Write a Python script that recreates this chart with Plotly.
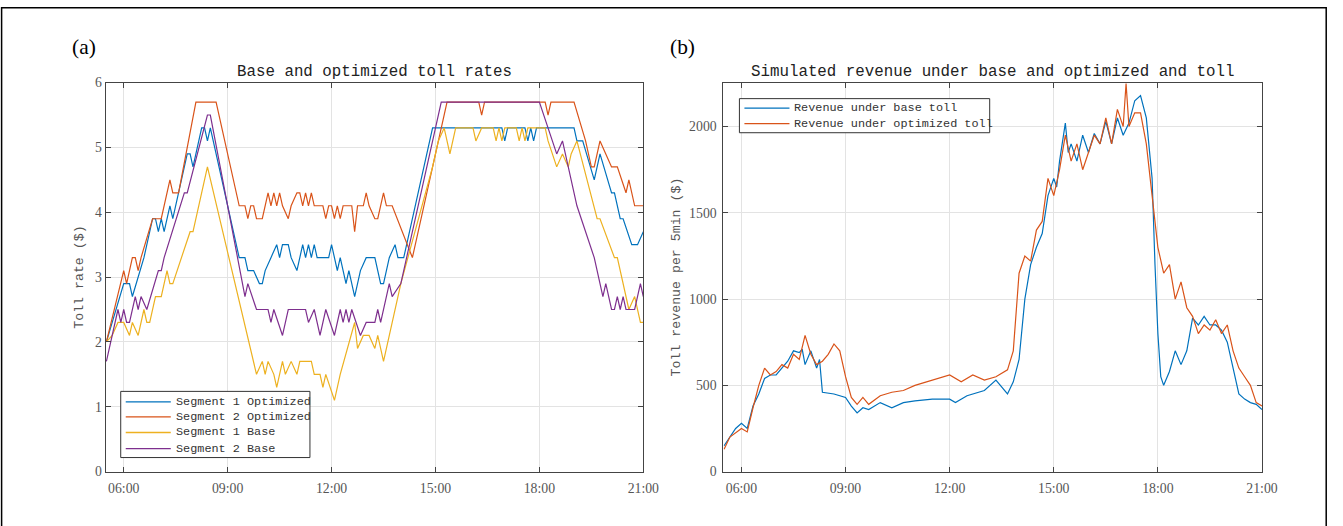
import plotly.graph_objects as go

# ---------------- data: panel (a) toll rates ----------------
seg1_opt_t = ["05:30","06:00","06:10","06:15","06:35","06:50","06:55","07:00","07:05","07:10","07:20","07:25",
              "07:50","07:55","08:00","08:15","08:20","08:25","08:30","09:20","09:30","09:35","09:45","09:55",
              "10:00","10:05","10:15","10:25","10:30","10:35","10:45","10:50","11:00","11:10","11:15","11:20",
              "11:25","11:30","11:35","11:55","12:00","12:10","12:15","12:25","12:30","12:40","12:50","13:00",
              "13:15","13:25","13:30","13:40","13:50","13:55","14:05","14:55","16:55","17:00","17:05","17:35",
              "17:40","17:45","17:50","17:55","19:00","19:05","19:15","19:35","19:45","20:05","20:10","20:20",
              "20:25","20:40","20:50","21:00"]
seg1_opt_v = [2.0,2.9,2.9,2.7,3.3,3.9,3.9,3.7,3.9,3.7,4.1,3.9,
              4.9,4.9,4.7,5.3,5.3,5.1,5.3,3.3,3.3,3.1,3.1,2.9,
              2.9,3.1,3.3,3.5,3.3,3.5,3.5,3.3,3.1,3.5,3.3,3.5,
              3.3,3.5,3.3,3.3,3.5,3.1,3.3,2.9,3.1,2.7,3.1,3.3,
              3.3,2.9,2.9,3.3,3.5,3.3,3.3,5.3,5.3,5.1,5.3,5.3,
              5.1,5.3,5.1,5.3,5.3,5.1,5.1,4.5,4.9,4.3,4.3,3.9,
              3.9,3.5,3.5,3.7]

seg2_opt_t = ["05:30","06:00","06:05","06:15","06:20","06:25","06:30","06:50","07:05","07:20","07:25","07:35",
              "08:05","08:40","09:20","09:30","09:35","09:40","09:45","09:50","10:00","10:10","10:15","10:20",
              "10:25","10:30","10:35","10:45","10:50","11:00","11:05","11:10","11:15","11:20","11:25","11:30",
              "11:45","11:50","11:55","12:00","12:05","12:10","12:15","12:20","12:35","12:40","12:45","12:55",
              "13:00","13:05","13:15","13:20","13:30","13:35","13:45","14:20","15:20","16:15","16:20","16:25",
              "18:10","18:15","18:20","19:00","19:20","19:30","19:35","19:45","19:55","20:05","20:15","20:30",
              "20:35","20:45","21:00"]
seg2_opt_v = [2.0,3.1,2.9,3.3,3.3,3.1,3.3,3.9,3.9,4.5,4.3,4.3,
              5.7,5.7,4.1,4.1,3.9,4.1,4.1,3.9,3.9,4.3,4.1,4.3,
              4.1,4.3,4.1,3.9,4.1,4.3,4.3,4.1,4.3,4.1,4.3,4.1,
              4.1,3.9,4.1,4.1,3.9,4.1,3.9,4.1,4.1,3.7,4.1,4.1,
              4.3,4.1,3.9,3.9,4.3,4.1,4.1,3.3,5.7,5.7,5.5,5.7,
              5.7,5.5,5.7,5.7,5.1,4.7,4.7,5.1,4.9,4.7,4.7,4.3,
              4.5,4.1,4.1]

seg1_base_t = ["05:30","05:40","05:50","06:00","06:10","06:15","06:25","06:35","06:40","06:45","06:55","07:05",
               "07:15","07:20","07:25","07:55","08:00","08:25","09:50","10:00","10:05","10:10","10:20","10:25",
               "10:35","10:40","10:50","11:00","11:05","11:25","11:30","11:40","11:45","11:50","12:05","12:15",
               "12:40","12:45","12:55","13:05","13:15","13:20","13:30","14:00","14:55","15:05","15:15","15:25",
               "15:35","16:05","16:10","16:20","16:40","16:45","16:50","16:55","17:00","17:20","17:25","17:30",
               "17:35","17:40","18:10","18:15","18:30","18:40","18:50","18:55","19:05","19:40","19:45","20:10",
               "20:15","20:35","20:45","20:55","21:00"]
seg1_base_v = [2.0,2.1,2.3,2.3,2.1,2.3,2.1,2.5,2.3,2.3,2.7,2.7,
               3.1,2.9,2.9,3.7,3.7,4.7,1.5,1.7,1.5,1.7,1.5,1.3,
               1.7,1.5,1.7,1.5,1.7,1.7,1.5,1.5,1.3,1.5,1.1,1.5,
               2.3,1.9,2.1,2.1,1.9,2.1,1.7,2.9,4.7,5.1,5.3,4.9,
               5.3,5.3,5.1,5.3,5.3,5.1,5.3,5.1,5.3,5.3,5.1,5.3,
               5.1,5.3,5.3,5.1,4.7,4.9,4.7,4.9,5.1,3.9,3.9,3.3,
               3.3,2.5,2.7,2.3,2.3]

seg2_base_t = ["05:30","05:50","05:55","06:00","06:05","06:10","06:20","06:25","06:30","06:40","07:00","07:05",
               "07:10","07:45","07:50","08:25","08:30","09:30","09:35","09:50","10:10","10:15","10:20","10:35",
               "10:45","11:15","11:20","11:30","11:40","11:50","12:05","12:15","12:20","12:25","12:30","12:35",
               "12:50","13:00","13:15","13:20","13:25","13:35","13:40","13:45","14:00","15:10","18:00","18:30",
               "18:40","19:05","19:35","19:50","19:55","20:05","20:10","20:15","20:20","20:25","20:30","20:45",
               "20:55","21:00"]
seg2_base_v = [1.7,2.5,2.3,2.5,2.3,2.3,2.7,2.5,2.7,2.5,3.1,3.1,
               3.3,4.3,4.3,5.5,5.5,2.7,2.9,2.5,2.5,2.3,2.5,2.1,
               2.5,2.5,2.3,2.5,2.1,2.5,2.1,2.5,2.3,2.5,2.3,2.5,
               2.1,2.3,2.3,2.5,2.3,2.7,2.9,2.7,2.9,5.7,5.7,4.9,
               5.1,4.1,3.3,2.7,2.9,2.5,2.5,2.7,2.5,2.7,2.5,2.5,
               2.9,2.7]

# ---------------- data: panel (b) revenue ----------------
rev_base_t = ["05:30","05:40","05:50","06:00","06:10","06:20","06:30","06:40","06:50","07:00","07:10","07:20",
              "07:30","07:40","07:45","07:50","08:00","08:10","08:15","08:20","08:40","09:00","09:10","09:20",
              "09:30","09:40","10:00","10:20","10:40","11:00","11:30","12:00","12:10","12:30","13:00","13:20",
              "13:40","13:50","14:00","14:10","14:20","14:30","14:40","14:50","15:00","15:05","15:10","15:20",
              "15:25","15:30","15:40","15:50","16:00","16:10","16:20","16:30","16:40","16:50","17:00","17:10",
              "17:20","17:30","17:40","17:50","17:55","18:00","18:05","18:10","18:20","18:30","18:40","18:50",
              "19:00","19:10","19:20","19:30","19:40","19:50","20:00","20:10","20:20","20:30","20:40","20:50",
              "21:00"]
rev_base_v = [150,200,250,280,250,380,450,540,560,560,600,640,
              700,690,710,620,700,600,650,460,450,430,380,340,
              370,360,400,370,400,410,420,420,400,440,470,530,
              450,520,650,1000,1200,1300,1380,1600,1700,1650,1800,2020,
              1850,1900,1800,1950,1850,1960,1900,2030,1900,2050,1950,2020,
              2150,2180,2050,1700,1200,800,550,500,580,700,620,700,
              890,850,900,850,850,820,750,600,450,420,400,390,
              360]

rev_opt_t = ["05:30","05:40","06:00","06:10","06:20","06:30","06:40","06:50","07:00","07:10","07:20","07:30",
             "07:40","07:50","08:00","08:10","08:20","08:30","08:40","08:50","09:00","09:10","09:20","09:30",
             "09:40","10:00","10:20","10:40","11:00","11:20","11:40","12:00","12:20","12:40","13:00","13:20",
             "13:40","13:50","14:00","14:10","14:20","14:30","14:40","14:50","15:00","15:10","15:20","15:30",
             "15:40","15:50","16:00","16:10","16:20","16:30","16:40","16:50","17:00","17:05","17:10","17:20",
             "17:30","17:40","17:50","18:00","18:10","18:20","18:30","18:40","18:50","19:00","19:10","19:20",
             "19:30","19:40","19:50","20:00","20:10","20:20","20:30","20:40","20:50","21:00"]
rev_opt_v = [130,200,250,230,370,500,600,560,580,620,600,680,
             650,790,680,620,640,680,740,700,550,430,390,430,
             390,440,460,470,500,520,540,560,520,560,530,550,
             590,700,1150,1250,1220,1400,1450,1700,1600,1750,1950,1800,
             1900,1750,1850,1950,1900,2050,1900,2100,2000,2250,2000,2080,
             2080,1900,1600,1300,1150,1200,1000,1100,950,900,800,850,
             820,880,800,850,700,600,550,500,400,380]

x_tickvals = [6, 9, 12, 15, 18, 21]
x_ticktext = ["06:00", "09:00", "12:00", "15:00", "18:00", "21:00"]
rate_ticks = [0, 1, 2, 3, 4, 5, 6]
rev_ticks = [0, 500, 1000, 1500, 2000]


def hours(ts):
    out = []
    for s in ts:
        h, m = s.split(":")
        out.append(int(h) + int(m) / 60.0)
    return out


C_BLUE = "#0072BD"
C_ORANGE = "#D95319"
C_YELLOW = "#EDB120"
C_PURPLE = "#7E2F8E"
MONO = "Liberation Mono"
SERIF = "Liberation Serif"

W, H = 1343, 526
# observed page->photo mapping (photo = a + s * page); positions below are given in photo pixels
AX, SX = 1.4, 0.987
AY, SY = 7.6, 0.969
FS = 1.02  # font compensation


def px(X):
    return ((X - AX) / SX) / W


def py(Y):
    return 1 - ((Y - AY) / SY) / H


left_series = [
    ("Segment 1 Optimized", seg1_opt_t, seg1_opt_v, C_BLUE),
    ("Segment 2 Optimized", seg2_opt_t, seg2_opt_v, C_ORANGE),
    ("Segment 1 Base", seg1_base_t, seg1_base_v, C_YELLOW),
    ("Segment 2 Base", seg2_base_t, seg2_base_v, C_PURPLE),
]
right_series = [
    ("Revenue under base toll", rev_base_t, rev_base_v, C_BLUE),
    ("Revenue under optimized toll", rev_opt_t, rev_opt_v, C_ORANGE),
]

fig = go.Figure()
lw = 1.2
for name, t, v, c in left_series:
    fig.add_trace(go.Scatter(x=hours(t), y=v, mode="lines", name=name, showlegend=False,
                             line=dict(color=c, width=lw), xaxis="x", yaxis="y"))
for name, t, v, c in right_series:
    fig.add_trace(go.Scatter(x=hours(t), y=v, mode="lines", name=name, showlegend=False,
                             line=dict(color=c, width=lw), xaxis="x2", yaxis="y2"))

# plot areas in photo pixels
L1, R1 = 107, 644
L2, R2 = 724, 1262
TOP, BOT = 83, 471

axis_common = dict(showline=True, linecolor="#444444", linewidth=1, mirror="ticks", ticks="inside",
                   ticklen=5, tickcolor="#444444", showgrid=True, gridcolor="#e3e3e3", gridwidth=1,
                   zeroline=False, tickfont=dict(family=SERIF, size=13.5 * FS, color="#555555"))

fig.update_layout(
    width=W, height=H, margin=dict(l=0, r=0, t=0, b=0),
    paper_bgcolor="white", plot_bgcolor="white", showlegend=False,
    xaxis=dict(domain=[px(L1), px(R1)], range=[5.48, 21.0], tickvals=x_tickvals, ticktext=x_ticktext,
               anchor="y", ticklabelstandoff=4, **axis_common),
    yaxis=dict(domain=[py(BOT), py(TOP)], range=[0, 6], tickvals=rate_ticks, anchor="x", **axis_common),
    xaxis2=dict(domain=[px(L2), px(R2)], range=[5.48, 21.0], tickvals=x_tickvals, ticktext=x_ticktext,
                anchor="y2", ticklabelstandoff=4, **axis_common),
    yaxis2=dict(domain=[py(BOT), py(TOP)], range=[0, 2255], tickvals=rev_ticks, anchor="x2",
                ticklabelstandoff=3, **axis_common),
)

ann = [
    dict(text="Base and optimized toll rates", x=px((L1 + R1) / 2), y=py(72), xanchor="center",
         font=dict(family=MONO, size=15.5 * FS, color="#222222")),
    dict(text="Simulated revenue under base and optimized and toll", x=px((L2 + R2) / 2), y=py(72),
         xanchor="center", font=dict(family=MONO, size=15.5 * FS, color="#222222")),
    dict(text="Toll rate ($)", x=px(80), y=py((TOP + BOT) / 2), textangle=-90, xanchor="center",
         font=dict(family=MONO, size=13 * FS, color="#555555")),
    dict(text="Toll revenue per 5min ($)", x=px(677), y=py((TOP + BOT) / 2), textangle=-90, xanchor="center",
         font=dict(family=MONO, size=13 * FS, color="#555555")),
    dict(text="(a)", x=px(85), y=py(47), xanchor="center", font=dict(family=SERIF, size=21 * FS, color="#000000")),
    dict(text="(b)", x=px(683), y=py(47), xanchor="center", font=dict(family=SERIF, size=21 * FS, color="#000000")),
]

shapes = []


def add_legend(series, box, line_x, text_x, rows_y):
    x0, y0, x1, y1 = box
    shapes.append(dict(type="rect", x0=px(x0), x1=px(x1), y0=py(y1), y1=py(y0),
                       line=dict(color="#333333", width=1), fillcolor="white", layer="above"))
    for (name, _t, _v, c), ry in zip(series, rows_y):
        shapes.append(dict(type="line", x0=px(line_x[0]), x1=px(line_x[1]), y0=py(ry), y1=py(ry),
                           line=dict(color=c, width=1.3), layer="above"))
        ann.append(dict(text=name, x=px(text_x), y=py(ry), xanchor="left",
                        font=dict(family=MONO, size=11.6 * FS, color="#333333")))


add_legend(left_series, (122, 391, 311, 457), (127, 172), 175, [401.5, 416.5, 432, 448])
add_legend(right_series, (740, 99, 990, 133), (745, 790), 793, [108.5, 124])

for a in ann:
    a.update(xref="paper", yref="paper", showarrow=False, yanchor="middle")

# outer frame of the figure
shapes.append(dict(type="rect", x0=px(3), x1=min(px(1340), 1 - 0.8 / W), y0=-0.05, y1=1 - 0.8 / H,
                   line=dict(color="black", width=1.5), fillcolor="rgba(0,0,0,0)", layer="above"))
for s in shapes:
    s.update(xref="paper", yref="paper")

fig.update_layout(annotations=ann, shapes=shapes)

fig.write_html("out.html", config={"displayModeBar": False},
               post_script="document.body.style.margin='0';document.documentElement.style.overflow='hidden';")
